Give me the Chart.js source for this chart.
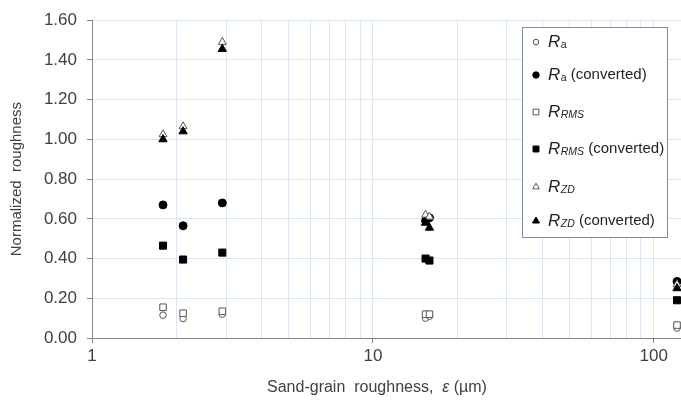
<!DOCTYPE html>
<html><head><meta charset="utf-8">
<script src="https://cdn.jsdelivr.net/npm/chart.js@4.4.1/dist/chart.umd.min.js"></script>
<style>html,body{margin:0;padding:0;background:#fff}#wrap{width:681px;height:403px}</style>
</head><body><div id="wrap"><canvas id="c" width="681" height="403"></canvas></div>
<script>
// ---- data ----
const sandGrain      = [1.79, 2.11, 2.91, 15.4, 15.9, 121];
const raValues       = [0.115, 0.098, 0.12, 0.10, 0.11, 0.05];
const raConverted    = [0.67, 0.565, 0.68, 0.59, 0.605, 0.285];
const rmsValues      = [0.155, 0.125, 0.135, 0.12, 0.12, 0.065];
const rmsConverted   = [0.465, 0.395, 0.43, 0.40, 0.39, 0.19];
const zdValues       = [1.025, 1.065, 1.49, 0.62, 0.61, 0.27];
const zdConverted    = [1.0, 1.04, 1.455, 0.58, 0.555, 0.25];
const seriesNames    = ['Ra', 'Ra (converted)', 'RRMS', 'RRMS (converted)', 'RZD', 'RZD (converted)'];
const legendSubs     = ['a', 'a', 'RMS', 'RMS', 'ZD', 'ZD'];
const legendSuffix   = ['', ' (converted)', '', ' (converted)', '', ' (converted)'];
const yTickValues    = [0, 0.2, 0.4, 0.6, 0.8, 1.0, 1.2, 1.4, 1.6];
const xGridValues    = [1,2,3,4,5,6,7,8,9,10,20,30,40,50,60,70,80,90,100];
const xTickLabels    = ['1', '10', '100'];
const xTitle         = ['Sand-grain  roughness,  ', 'ε', ' (µm)'];
const yTitle         = 'Normalized  roughness';

const FONT = '"Liberation Sans", Arial, sans-serif';
const TXT = '#404040';
const GRID = '#dbe5f1';
const AXIS = '#868686';

const seriesValues = [raValues, raConverted, rmsValues, rmsConverted, zdValues, zdConverted];
const styles = [
  {pointStyle:'circle',   fill:'#ffffff', stroke:'#555555', r:3.3, lr:2.7},
  {pointStyle:'circle',   fill:'#000000', stroke:'#000000', r:4.0, lr:3.2},
  {pointStyle:'rect',     fill:'#ffffff', stroke:'#555555', r:4.6, lr:4.0},
  {pointStyle:'rect',     fill:'#000000', stroke:'#000000', r:5.0, lr:4.2},
  {pointStyle:'triangle', fill:'#ffffff', stroke:'#555555', r:4.6, lr:3.8},
  {pointStyle:'triangle', fill:'#000000', stroke:'#000000', r:4.8, lr:4.0}
];

const datasets = seriesValues.map((vals, i) => ({
  label: seriesNames[i],
  data: vals.map((v, j) => ({x: sandGrain[j], y: v})),
  pointStyle: styles[i].pointStyle,
  pointRadius: styles[i].r,
  pointHoverRadius: styles[i].r,
  backgroundColor: styles[i].fill,
  borderColor: styles[i].stroke,
  borderWidth: 1,
  showLine: false,
  order: 6 - i,
  clip: false
}));

function drawMarker(ctx, style, r, x, y, fill, stroke) {
  ctx.beginPath();
  if (style === 'circle') {
    ctx.arc(x, y, r, 0, Math.PI * 2);
  } else if (style === 'rect') {
    const s = r * Math.SQRT1_2;
    ctx.rect(x - s, y - s, 2 * s, 2 * s);
  } else {
    ctx.moveTo(x, y - r);
    ctx.lineTo(x + r * 0.866, y + r * 0.5);
    ctx.lineTo(x - r * 0.866, y + r * 0.5);
    ctx.closePath();
  }
  ctx.fillStyle = fill; ctx.fill();
  ctx.strokeStyle = stroke; ctx.lineWidth = 1; ctx.stroke();
}

const legendRowsY = [42, 75, 112, 149, 187, 221];

const customDraw = {
  id: 'customDraw',
  afterDraw(chart) {
    const ctx = chart.ctx;
    ctx.save();
    // x-axis title with italic epsilon
    ctx.fillStyle = TXT;
    ctx.textBaseline = 'middle';
    const f1 = '16px ' + FONT, f2 = 'italic 16px ' + FONT;
    ctx.font = f1; const w0 = ctx.measureText(xTitle[0]).width; const w2 = ctx.measureText(xTitle[2]).width;
    ctx.font = f2; const w1 = ctx.measureText(xTitle[1]).width;
    let x = 377 - (w0 + w1 + w2) / 2;
    const ty = 388;
    ctx.textAlign = 'left';
    ctx.font = f1; ctx.fillText(xTitle[0], x, ty); x += w0;
    ctx.font = f2; ctx.fillText(xTitle[1], x, ty); x += w1;
    ctx.font = f1; ctx.fillText(xTitle[2], x, ty);

    // legend box
    ctx.fillStyle = '#ffffff';
    ctx.fillRect(522.5, 27.5, 145, 210);
    ctx.strokeStyle = '#7f8ea8';
    ctx.lineWidth = 1;
    ctx.strokeRect(522.5, 27.5, 145, 210);
    for (let i = 0; i < seriesNames.length; i++) {
      const y = legendRowsY[i];
      drawMarker(ctx, styles[i].pointStyle, styles[i].lr, 536, y, styles[i].fill, styles[i].stroke);
      let tx = 548;
      ctx.fillStyle = '#222';
      ctx.font = 'italic 17px ' + FONT;
      ctx.fillText('R', tx, y); tx += ctx.measureText('R').width + 0.5;
      ctx.font = (legendSubs[i] === 'a' ? '' : 'italic ') + '10.5px ' + FONT;
      ctx.fillText(legendSubs[i], tx, y + 3); tx += ctx.measureText(legendSubs[i]).width;
      if (legendSuffix[i]) {
        ctx.font = '15px ' + FONT;
        ctx.fillText(legendSuffix[i], tx, y);
      }
    }
    ctx.restore();
  }
};

new Chart(document.getElementById('c'), {
  type: 'scatter',
  data: { datasets },
  options: {
    responsive: false,
    animation: false,
    devicePixelRatio: 1,
    layout: { autoPadding: false, padding: { top: 18, right: 0, left: 0, bottom: 0 } },
    plugins: { legend: { display: false }, tooltip: { enabled: false } },
    scales: {
      x: {
        type: 'logarithmic',
        min: 1, max: 125,
        afterBuildTicks: s => { s.ticks = xGridValues.map(v => ({ value: v, major: xTickLabels.includes(String(v)) })); },
        afterFit: s => { s.height = 65; s.paddingRight = 0; },
        ticks: {
          autoSkip: false, maxRotation: 0, minRotation: 0,
          callback: v => xTickLabels.includes(String(v)) ? String(v) : '',
          font: { size: 17, family: FONT }, color: TXT, padding: 3
        },
        grid: {
          color: c => (c.tick && c.tick.value === 1) ? 'rgba(0,0,0,0)' : GRID,
          tickColor: c => (c.tick && xTickLabels.includes(String(c.tick.value))) ? AXIS : 'rgba(0,0,0,0)',
          tickLength: 5, lineWidth: 1
        },
        border: { color: AXIS, width: 1 }
      },
      y: {
        min: 0, max: 1.6,
        afterBuildTicks: s => { s.ticks = yTickValues.map(v => ({ value: v })); },
        afterFit: s => { s.width = 92; },
        ticks: {
          callback: v => Number(v).toFixed(2),
          font: { size: 17, family: FONT }, color: TXT, padding: 10
        },
        grid: {
          color: c => (c.tick && c.tick.value === 0) ? 'rgba(0,0,0,0)' : GRID,
          tickColor: AXIS, tickLength: 5, lineWidth: 1
        },
        border: { color: AXIS, width: 1 },
        title: { display: true, text: yTitle, font: { size: 15, family: FONT }, color: TXT, padding: { top: 8, bottom: 0 } }
      }
    }
  },
  plugins: [customDraw]
});
</script>
</body></html>
